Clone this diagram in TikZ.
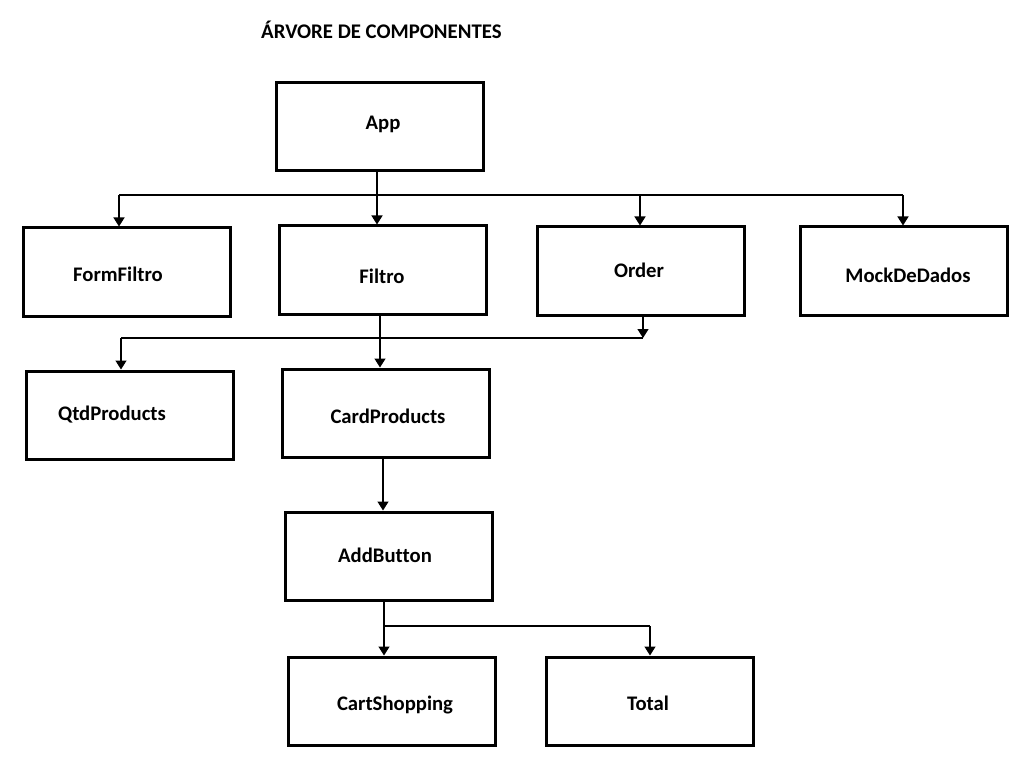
\documentclass[tikz,border=0pt]{standalone}
\usepackage{fontspec}
\setmainfont[Ligatures=NoCommon]{Carlito}
\usetikzlibrary{arrows.meta}
\begin{document}
\begin{tikzpicture}[x=1pt,y=-1pt,
  box/.style={draw,line width=3pt,inner sep=0pt,outer sep=1.5pt,minimum width=207pt,minimum height=88pt},
  lbl/.style={font=\bfseries\fontsize{20.7}{24}\selectfont,inner sep=0pt},
  conn/.style={line width=1.3pt},
  arr/.style={conn,-{Triangle[width=11pt,length=9pt]}}]
\useasboundingbox (0,0) rectangle (1023,762);
% title
\node[font=\bfseries\fontsize{20.8}{24}\selectfont,anchor=west,inner sep=0pt] (title) at (261,30) {ÁRVORE DE COMPONENTES};
% boxes
\node[box] (app) at (379.5,127) {};
\node[box] (formfiltro) at (127,272) {};
\node[box] (filtro) at (383,270) {};
\node[box] (order) at (641,271) {};
\node[box] (mock) at (904,271) {};
\node[box] (qtd) at (130,415) {};
\node[box] (card) at (386,413) {};
\node[box] (add) at (389,556) {};
\node[box] (cart) at (392,701) {};
\node[box] (total) at (650,701) {};
% labels
\node[lbl] (appT) at (383,124) {App};
\node[lbl] (formfiltroT) at (118,274) {FormFiltro};
\node[lbl] (filtroT) at (382,276) {Filtro};
\node[lbl] (orderT) at (639,270) {Order};
\node[lbl] (mockT) at (908,275) {MockDeDados};
\node[lbl] (qtdT) at (112,415) {QtdProducts};
\node[lbl] (cardT) at (388,416) {CardProducts};
\node[lbl] (addT) at (385,555) {AddButton};
\node[lbl] (cartT) at (395,705) {CartShopping};
\node[lbl] (totalT) at (648,703) {Total};
% junctions
\coordinate (j1) at (377,195);
\coordinate (j1a) at (119,195);
\coordinate (j1b) at (640,195);
\coordinate (j1c) at (903,195);
\coordinate (j2) at (380,338);
\coordinate (j2a) at (121,338);
\coordinate (j2b) at (643,338);
\coordinate (j3) at (383,460);
\coordinate (j4) at (384,626);
\coordinate (j4a) at (650,626);
% connectors
\draw[conn] (app.south -| j1) -- (j1);
\draw[conn] (j1a) -- (j1c);
\draw[arr] (j1a) -- (formfiltro.north -| j1a);
\draw[arr] (j1) -- (filtro.north -| j1);
\draw[arr] (j1b) -- (order.north -| j1b);
\draw[arr] (j1c) -- (mock.north -| j1c);
\draw[conn] (filtro.south -| j2) -- (j2);
\draw[conn] (j2a) -- (j2b);
\draw[arr] (order.south -| j2b) -- (j2b);
\draw[arr] (j2a) -- (qtd.north -| j2a);
\draw[arr] (j2) -- (card.north -| j2);
\draw[arr] (card.south -| j3) -- (add.north -| j3);
\draw[conn] (add.south -| j4) -- (j4);
\draw[conn] (j4) -- (j4a);
\draw[arr] (j4) -- (cart.north -| j4);
\draw[arr] (j4a) -- (total.north -| j4a);
\end{tikzpicture}
\end{document}
